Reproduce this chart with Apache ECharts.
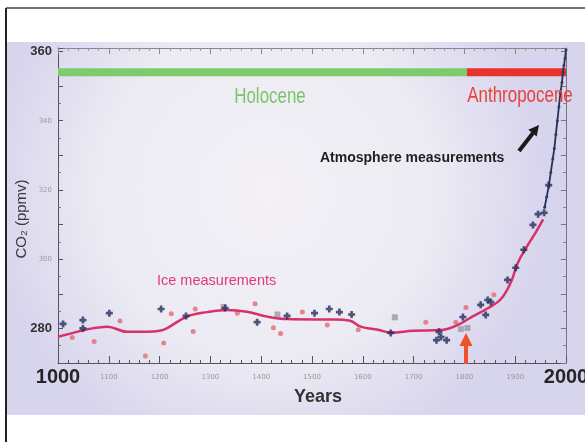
<!DOCTYPE html>
<html>
<head>
<meta charset="utf-8">
<script src="https://cdn.jsdelivr.net/npm/echarts@6/dist/echarts.min.js"></script>
<style>html,body{margin:0;padding:0;background:#fff;}#c{width:585px;height:442px;}</style>
</head>
<body>
<div id="c"></div>
<script>
// ---- data ----
var splineYears = [1000,1030,1060,1097,1136,1175,1200,1215,1254,1294,1333,1372,1412,1451,1503,1545,1575,1596,1630,1655,1700,1753,1787,1813,1846,1872,1892,1905,1925,1941,1955];
var splinePpm   = [277.6,278.7,279.8,280.5,279.0,279.0,279.3,280.1,283.4,284.7,285.3,284.8,283.4,282.7,282.6,282.6,282.2,280.5,279.6,278.8,279.3,279.5,281.0,283.2,285.8,288.5,293.5,298.9,304.1,307.9,311.5];

var darkYears = [1010,1049,1049,1101,1203,1252,1329,1392,1451,1505,1534,1554,1578,1655,1745,1750,1754,1765,1797,1832,1842,1846,1852,1885,1901,1917,1935,1945,1957,1966];
var darkPpm   = [281.3,282.4,280.0,284.4,285.6,283.6,285.9,281.8,283.6,284.4,285.6,284.7,284.0,278.7,276.6,279.0,277.5,276.6,283.3,286.8,283.9,288.2,287.6,294.0,297.5,302.7,309.9,313.0,313.4,321.4];

var pinkYears = [1028,1071,1122,1172,1208,1223,1266,1270,1353,1388,1424,1438,1481,1530,1591,1724,1783,1803,1858];
var pinkPpm   = [277.4,276.2,282.1,272.0,275.8,284.2,279.1,285.6,284.4,287.1,280.2,278.5,284.7,281.0,279.6,281.8,281.8,286.0,289.7];

var grayYears = [1326,1432,1663,1793,1806];
var grayPpm   = [286.2,284.0,283.2,279.8,280.1];

var atmosYears = [1958,1962,1966,1970,1974,1977,1980,1983,1986,1989,1992,1994,1996,1998,2000];
var atmosPpm   = [315,318,321,325,329,332,336,340,344,348,351,354,356,358,360.5];

var holoceneYears = [1000,1805];
var anthropoceneYears = [1805,2000];
var eraBarPpm = 354;

var bigXLabels = [1000,2000];
var bigYLabels = [280,360];
var smallYLabels = [300,320,340];

function pairs(xs, ys){ return xs.map(function(x,i){ return [x, ys[i]]; }); }

var chart = echarts.init(document.getElementById('c'), null, {renderer:'canvas'});
var axisColor = '#555';
var sans = 'Liberation Sans, Arial, sans-serif';

var option = {
  animation:false,
  backgroundColor:'#ffffff',
  grid:{left:58,right:19,top:48,bottom:79,containLabel:false,outerBoundsMode:'none'},
  xAxis:[{
    type:'value',min:1000,max:2000,interval:100,position:'bottom',
    axisLine:{lineStyle:{color:axisColor,width:1}},
    axisTick:{inside:true,length:7,lineStyle:{color:axisColor}},
    minorTick:{show:true,splitNumber:5,length:3,lineStyle:{color:axisColor}},
    splitLine:{show:false},
    axisLabel:{margin:3,formatter:function(v){
      return bigXLabels.indexOf(v)>=0 ? '{big|'+v+'}' : '{small|'+v+'}';
    },rich:{
      big:{fontSize:20,fontWeight:'bold',color:'#262626',fontFamily:sans,lineHeight:22},
      small:{fontSize:7,color:'#999',fontFamily:'DejaVu Sans, sans-serif',lineHeight:22}
    }}
  },{
    type:'value',min:1000,max:2000,interval:100,position:'top',
    axisLine:{lineStyle:{color:'#888',width:1}},
    axisTick:{inside:true,length:6,lineStyle:{color:'#888'}},
    minorTick:{show:true,splitNumber:5,length:3,lineStyle:{color:'#999'}},
    splitLine:{show:false},axisLabel:{show:false}
  }],
  yAxis:[{
    type:'value',min:270,max:361,interval:10,position:'left',
    axisLine:{lineStyle:{color:axisColor,width:1}},
    axisTick:{inside:true,length:5,lineStyle:{color:axisColor}},
    minorTick:{show:true,splitNumber:2,length:3,lineStyle:{color:'#777'}},
    splitLine:{show:false},
    axisLabel:{margin:6,showMaxLabel:true,formatter:function(v){
      if(bigYLabels.indexOf(v)>=0) return '{big|'+v+'}';
      if(smallYLabels.indexOf(v)>=0) return '{small|'+v+'}';
      return '';
    },rich:{
      big:{fontSize:13,fontWeight:'bold',color:'#333',fontFamily:sans},
      small:{fontSize:7,color:'#999',fontFamily:'DejaVu Sans, sans-serif'}
    }}
  },{
    type:'value',min:270,max:361,interval:10,position:'right',
    axisLine:{show:true,lineStyle:{color:'#777',width:1}},
    axisTick:{show:true,inside:true,length:5,lineStyle:{color:'#777'}},
    minorTick:{show:true,splitNumber:2,length:3,lineStyle:{color:'#888'}},
    splitLine:{show:false},axisLabel:{show:false}
  }],
  graphic:[
    {type:'rect',z:-100,silent:true,shape:{x:7,y:42,width:578,height:373},
     style:{fill:{type:'radial',x:0.45,y:0.4,r:0.75,colorStops:[{offset:0,color:'#f3f1f6'},{offset:0.6,color:'#ecebf3'},{offset:1,color:'#d7d4ed'}]}}},
    {type:'line',z:100,silent:true,shape:{x1:6,y1:8,x2:6,y2:442},style:{stroke:'#222',lineWidth:2}},
    {type:'line',z:100,silent:true,shape:{x1:6,y1:8,x2:585,y2:8},style:{stroke:'#444',lineWidth:1.5}},
    {type:'text',z:100,silent:true,x:270,y:97,scaleX:0.77,style:{text:'Holocene',align:'center',verticalAlign:'middle',font:'22px '+sans,fill:'#7cc46a'}},
    {type:'text',z:100,silent:true,x:520,y:96,scaleX:0.77,style:{text:'Anthropocene',align:'center',verticalAlign:'middle',font:'22px '+sans,fill:'#e8423a'}},
    {type:'text',z:100,silent:true,style:{text:'Atmosphere measurements',x:320,y:158,align:'left',verticalAlign:'middle',font:'bold 14px '+sans,fill:'#1e1e1e'}},
    {type:'text',z:100,silent:true,style:{text:'Ice measurements',x:157,y:281,align:'left',verticalAlign:'middle',font:'14.5px '+sans,fill:'#e0387a'}},
    {type:'text',z:100,silent:true,rotation:Math.PI/2,x:22,y:219,style:{text:'CO\u2082 (ppmv)',align:'center',verticalAlign:'middle',font:'15px '+sans,fill:'#3a3a3a'}},
    {type:'text',z:100,silent:true,style:{text:'Years',x:318,y:397,align:'center',verticalAlign:'middle',font:'bold 18px '+sans,fill:'#333'}},
    {type:'line',z:100,silent:true,shape:{x1:519,y1:151,x2:533,y2:133},style:{stroke:'#1a1a1a',lineWidth:4}},
    {type:'polygon',z:100,silent:true,shape:{points:[[539,125],[536.7,136.5],[528.3,129.7]]},style:{fill:'#1a1a1a'}},
    {type:'line',z:100,silent:true,shape:{x1:466,y1:364,x2:466,y2:344},style:{stroke:'#f0502a',lineWidth:4}},
    {type:'polygon',z:100,silent:true,shape:{points:[[466,333],[459.5,346],[472.5,346]]},style:{fill:'#f0502a'}}
  ],
  series:[
    {type:'line',name:'Holocene',data:pairs(holoceneYears,[eraBarPpm,eraBarPpm]),showSymbol:false,silent:true,
     lineStyle:{color:'#7ccb6c',width:8,cap:'butt'},z:3},
    {type:'line',name:'Anthropocene',data:pairs(anthropoceneYears,[eraBarPpm,eraBarPpm]),showSymbol:false,silent:true,
     lineStyle:{color:'#e8332c',width:8,cap:'butt'},z:3},
    {type:'scatter',name:'ice pink',data:pairs(pinkYears,pinkPpm),symbol:'circle',symbolSize:5,
     itemStyle:{color:'#e2727c',opacity:0.85},z:4},
    {type:'scatter',name:'ice gray',data:pairs(grayYears,grayPpm),symbol:'rect',symbolSize:6,
     itemStyle:{color:'#9a9aa6'},z:4},
    {type:'line',name:'spline',data:pairs(splineYears,splinePpm),smooth:0.4,showSymbol:false,
     lineStyle:{color:'#d8306a',width:2.5},z:5},
    {type:'scatter',name:'ice dark',data:pairs(darkYears,darkPpm),
     symbol:'path://M2.5,0H5.5V2.5H8V5.5H5.5V8H2.5V5.5H0V2.5H2.5Z',symbolSize:7,
     itemStyle:{color:'#262c5e'},z:6},
    {type:'line',name:'atmosphere',data:pairs(atmosYears,atmosPpm),smooth:0.3,symbol:'circle',symbolSize:3,
     lineStyle:{color:'#2a3050',width:1.8},itemStyle:{color:'#2a3a70'},z:6}
  ]
};
chart.setOption(option);
</script>
</body>
</html>
